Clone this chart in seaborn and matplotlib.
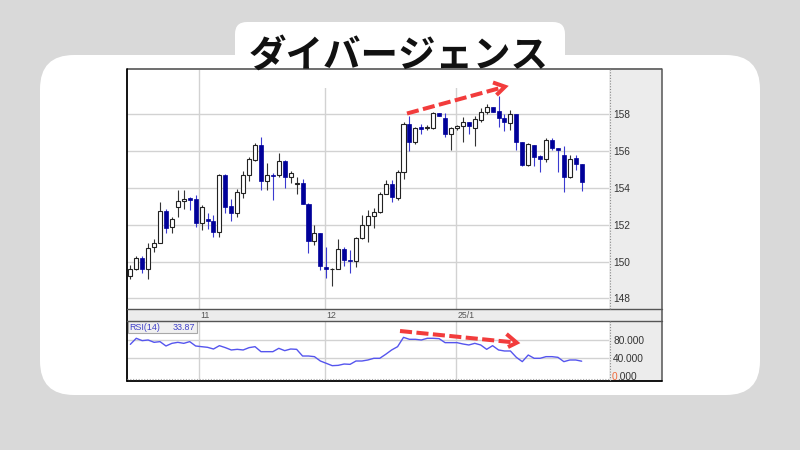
import numpy as np
import matplotlib
matplotlib.use("Agg")
import matplotlib.pyplot as plt
from matplotlib.patches import FancyBboxPatch, Rectangle
from matplotlib.transforms import blended_transform_factory, offset_copy
import seaborn as sns

# ---- data -----------------------------------------------------------------
opens = [149.21, 149.58, 150.19, 149.58, 150.77, 151.02, 152.72, 151.85, 152.94, 153.26,
         153.44, 153.37, 152.07, 152.32, 152.18, 151.62, 154.67, 153.01, 152.65, 153.69,
         154.67, 155.50, 156.30, 154.38, 154.70, 154.71, 155.46, 154.56, 154.22, 154.24,
         153.12, 151.09, 151.56, 149.72, 149.58, 149.58, 150.66, 150.11, 150.01, 151.27,
         151.98, 152.48, 152.66, 153.68, 154.18, 153.42, 154.87, 157.43, 156.46, 157.29,
         157.22, 157.22, 158.05, 157.76, 156.89, 157.22, 157.36, 157.54, 157.25, 157.69,
         158.08, 158.37, 158.16, 157.80, 157.51, 158.01, 156.49, 155.23, 156.31, 155.70,
         155.56, 156.57, 156.13, 155.77, 154.58, 155.59, 155.27]
highs = [149.81, 150.30, 150.30, 150.98, 151.20, 153.23, 152.83, 152.39, 153.87, 153.87,
         153.51, 153.59, 153.04, 152.61, 152.54, 154.74, 154.74, 153.40, 153.95, 154.89,
         155.65, 156.44, 156.77, 155.36, 154.78, 155.90, 155.50, 154.92, 154.60, 154.45,
         153.15, 151.99, 151.56, 150.80, 149.65, 151.24, 150.77, 150.62, 151.31, 152.54,
         152.79, 152.88, 153.75, 154.40, 154.40, 154.94, 157.54, 157.90, 157.29, 157.43,
         157.40, 158.08, 158.05, 158.05, 157.29, 157.40, 157.83, 157.58, 157.90, 158.34,
         158.52, 158.37, 158.95, 158.01, 158.23, 158.01, 156.49, 156.42, 156.31, 155.77,
         156.71, 156.68, 156.13, 156.24, 155.77, 155.77, 155.27]
lows = [149.03, 149.54, 149.36, 149.07, 150.51, 150.98, 151.56, 151.53, 152.43, 152.83,
        152.79, 151.85, 151.71, 151.74, 151.35, 151.35, 152.61, 152.18, 152.39, 153.44,
        154.38, 155.47, 153.88, 153.88, 153.33, 154.60, 153.98, 154.24, 153.66, 153.12,
        150.48, 150.91, 149.54, 149.11, 148.67, 149.58, 149.76, 149.36, 149.72, 151.24,
        151.07, 151.83, 152.63, 153.64, 153.21, 153.35, 154.47, 155.99, 156.35, 156.89,
        157.14, 157.20, 157.87, 156.75, 156.06, 157.14, 156.49, 156.89, 156.28, 157.58,
        158.01, 158.08, 157.29, 157.07, 157.11, 156.02, 155.19, 155.16, 155.16, 154.87,
        155.41, 156.02, 154.83, 153.75, 154.54, 154.94, 153.82]
closes = [149.58, 150.19, 149.58, 150.73, 151.02, 152.72, 151.83, 152.29, 153.26, 153.40,
          153.33, 152.07, 152.97, 152.18, 151.62, 154.67, 152.94, 152.61, 153.77, 154.67,
          155.54, 156.30, 154.38, 154.67, 154.65, 155.46, 154.56, 154.78, 154.25, 153.12,
          151.09, 151.56, 149.76, 149.61, 149.60, 150.66, 150.08, 150.04, 151.27, 151.96,
          152.48, 152.66, 153.68, 154.18, 153.50, 154.87, 157.43, 156.46, 157.25, 157.18,
          157.29, 158.05, 157.87, 156.89, 157.22, 157.36, 157.54, 157.33, 157.72, 158.08,
          158.37, 158.12, 157.76, 157.54, 158.01, 156.49, 155.23, 156.35, 155.66, 155.56,
          156.57, 156.13, 156.06, 154.58, 155.56, 155.27, 154.29]
rsi = [70.7, 83.9, 78.8, 80.2, 75.1, 76.6, 67.1, 72.9, 75.1, 72.9,
       76.6, 67.1, 65.6, 64.2, 60.5, 67.8, 63.5, 58.4, 59.8, 58.4,
       63.5, 65.6, 54.7, 54.7, 54.7, 62.0, 56.9, 60.5, 59.8, 45.2,
       45.2, 43.8, 34.3, 29.2, 24.1, 24.8, 27.7, 27.0, 34.3, 34.3,
       36.5, 40.2, 40.2, 48.9, 58.4, 65.6, 86.0, 81.7, 81.7, 80.2,
       83.9, 83.9, 83.1, 74.4, 74.4, 74.4, 71.5, 69.3, 72.9, 69.3,
       59.8, 67.8, 58.4, 56.2, 56.2, 42.3, 32.9, 47.4, 40.2, 40.2,
       43.8, 43.8, 42.3, 32.9, 36.5, 36.5, 33.87]

price_ticks = [148, 150, 152, 154, 156, 158]
rsi_ticks = [40, 80]
rsi_floor = 0
date_labels = ["11", "12", "25/1"]
date_pos = [11.6, 32.7, 54.8]
title = "ダイバージェンス"

# ---- style ----------------------------------------------------------------
W, H = 800, 450
sns.set_theme(style="white")
plt.rcParams["font.family"] = ["Noto Sans CJK JP", "DejaVu Sans"]
TICK_FONT = "Liberation Sans"
BG = "#d9d9d9"
PANEL = "#ececec"
GRID = "#d2d2d2"
NAVY = "#000099"
BEAR_WICK = "#3a3ad0"
BULL_EDGE = "#222222"
RED = "#f23c3c"

fig = plt.figure(figsize=(W / 100, H / 100), dpi=100)
fig.patch.set_facecolor(BG)


def rect(x0, y0, x1, y1):
    """Figure-fraction rectangle from pixel box (y measured from top)."""
    return [x0 / W, 1 - y1 / H, (x1 - x0) / W, (y1 - y0) / H]


def pixel_axes(z):
    a = fig.add_axes([0, 0, 1, 1], zorder=z)
    a.set_xlim(0, W)
    a.set_ylim(H, 0)
    a.axis("off")
    return a


# background card and grey scale panels
bg = pixel_axes(0)
bg.add_patch(FancyBboxPatch((40, 55), 720, 340, boxstyle="round,pad=0,rounding_size=34",
                            facecolor="white", edgecolor="none"))
bg.add_patch(Rectangle((609, 69), 53, 312, facecolor=PANEL, edgecolor="none"))
bg.add_patch(Rectangle((127, 309), 535, 11.5, facecolor=PANEL, edgecolor="none"))

n = len(opens)
x = np.arange(n)
o = np.array(opens)
c = np.array(closes)
hi = np.array(highs)
lo = np.array(lows)
up = c >= o
xlim = (-0.56, 80.6)

# ---- price panel ----------------------------------------------------------
axp = fig.add_axes(rect(127, 69, 609, 309))
axp.set_zorder(2)
axp.set_facecolor("white")
axp.set_xlim(*xlim)
axp.set_ylim(147.43, 160.43)
axp.set_xticks(date_pos)
axp.set_yticks(price_ticks)
axp.set_yticklabels([str(t) for t in price_ticks])
axp.yaxis.tick_right()
axp.tick_params(axis="x", length=0, labelbottom=False)
axp.tick_params(axis="y", length=0, pad=3, labelsize=7.3, labelcolor="#333333")
for lab in axp.get_yticklabels():
    lab.set_fontfamily(TICK_FONT)
axp.grid(True, color=GRID, linewidth=1.0)
axp.set_axisbelow(True)
for s in axp.spines.values():
    s.set_visible(False)

wick_colors = np.where(up, "#333333", BEAR_WICK)
axp.vlines(x, lo, hi, colors=wick_colors, linewidth=0.8, zorder=2)
body_bottom = np.minimum(o, c)
body_height = np.maximum(np.abs(c - o), 0.04)
axp.bar(x[up], body_height[up], bottom=body_bottom[up], width=0.68,
        facecolor="white", edgecolor=BULL_EDGE, linewidth=0.8, zorder=3)
axp.bar(x[~up], body_height[~up], bottom=body_bottom[~up], width=0.68,
        facecolor=NAVY, edgecolor=NAVY, linewidth=0.5, zorder=3)

# ---- date strip -----------------------------------------------------------
axd = fig.add_axes(rect(127, 309, 609, 320.5))
axd.set_zorder(2)
axd.set_xlim(*xlim)
axd.set_ylim(0, 1)
axd.axis("off")
date_tr = offset_copy(axd.transData, fig=fig, x=1.5, y=0, units="dots")
for pos, lab in zip(date_pos, date_labels):
    axd.text(pos, 0.45, lab, transform=date_tr, ha="left", va="center",
             fontsize=6.3, color="#555555", family=TICK_FONT)

# ---- RSI panel ------------------------------------------------------------
axr = fig.add_axes(rect(127, 320.5, 609, 381))
axr.set_zorder(2)
axr.set_facecolor("white")
sns.lineplot(x=x, y=rsi, ax=axr, color="#5555ee", linewidth=1.0)
axr.set_xlim(*xlim)
axr.set_ylim(-9.4, 122.8)
axr.set_xticks(date_pos)
axr.set_yticks(rsi_ticks)
axr.set_yticklabels([f"{t:.3f}" for t in rsi_ticks])
axr.yaxis.tick_right()
axr.set_xlabel("")
axr.set_ylabel("")
axr.tick_params(axis="x", length=0, labelbottom=False)
axr.tick_params(axis="y", length=0, pad=3, labelsize=7.3, labelcolor="#333333")
for lab in axr.get_yticklabels():
    lab.set_fontfamily(TICK_FONT)
axr.grid(True, color=GRID, linewidth=1.0)
axr.set_axisbelow(True)
for s in axr.spines.values():
    s.set_visible(False)

# floor label: leading digit highlighted
floor_tr = blended_transform_factory(axr.transAxes, axr.transData)
t0 = axr.text(1.0, rsi_floor, f"{rsi_floor:.3f}"[0],
              transform=offset_copy(floor_tr, fig=fig, x=3, y=0, units="dots"),
              ha="left", va="center", fontsize=7.3, color="#f06a3c",
              family=TICK_FONT, clip_on=False)
axr.text(1.0, rsi_floor, f"{rsi_floor:.3f}"[1:],
         transform=offset_copy(floor_tr, fig=fig, x=3 + 5.6, y=0, units="dots"),
         ha="left", va="center", fontsize=7.3, color="#333333",
         family=TICK_FONT, clip_on=False)

# ---- frame, title and annotations -----------------------------------------
fg = pixel_axes(3)
dark = "#555555"
fg.plot([127, 662], [68.5, 68.5], color="#6e6e6e", lw=1.4, solid_capstyle="butt")
fg.plot([127, 127], [68.5, 381], color="black", lw=1.3)
fg.plot([662, 662], [68.5, 381], color=dark, lw=1.1)
fg.plot([127, 662], [309, 309], color=dark, lw=1.0)
fg.plot([127, 662], [320.5, 320.5], color=dark, lw=1.0)
fg.plot([127, 662], [381, 381], color="black", lw=1.3)
fg.plot([609.5, 609.5], [69, 309], color="#8a8a8a", lw=0.8, ls=(0, (1, 1.5)))
fg.plot([609.5, 609.5], [320.5, 381], color="#8a8a8a", lw=0.8, ls=(0, (1, 1.5)))
fg.plot([127, 609], [379, 379], color="#aaaaaa", lw=0.8, ls=(0, (1, 1.5)))

# RSI legend box
fg.add_patch(Rectangle((127.5, 321), 69.5, 11.5, facecolor="#f0f0f0",
                       edgecolor="#a8a8a8", lw=0.8))
fg.text(129, 327, "RSI(14)", ha="left", va="center", fontsize=6.4,
        color="#4040c8", family=TICK_FONT)
fg.text(195, 327, f"{rsi[-1]:.2f}", ha="right", va="center", fontsize=6.4,
        color="#4040c8", family=TICK_FONT)

# title tab
fg.add_patch(FancyBboxPatch((235, 22), 330, 66, boxstyle="round,pad=0,rounding_size=12",
                            facecolor="white", edgecolor="none"))
fg.text(399, 55, title, ha="center", va="center", fontsize=27, fontweight="bold",
        color="#111111", family=["Noto Sans CJK JP", "DejaVu Sans"])

# divergence arrows
arrow_kw = dict(color=RED, lw=2.9, solid_capstyle="butt", dash_capstyle="butt")
fg.plot([407, 502], [113.5, 87.5], ls=(0, (3.0, 1.1)), **arrow_kw)
fg.plot([493, 505, 496.5], [82.5, 86.7, 95], solid_joinstyle="miter", **arrow_kw)
fg.plot([400, 513], [331, 342.3], ls=(0, (3.0, 1.1)), **arrow_kw)
fg.plot([506.5, 516.7, 508], [334, 342.7, 347], solid_joinstyle="miter", **arrow_kw)

fig.savefig("out.png", dpi=100, facecolor=fig.get_facecolor())
